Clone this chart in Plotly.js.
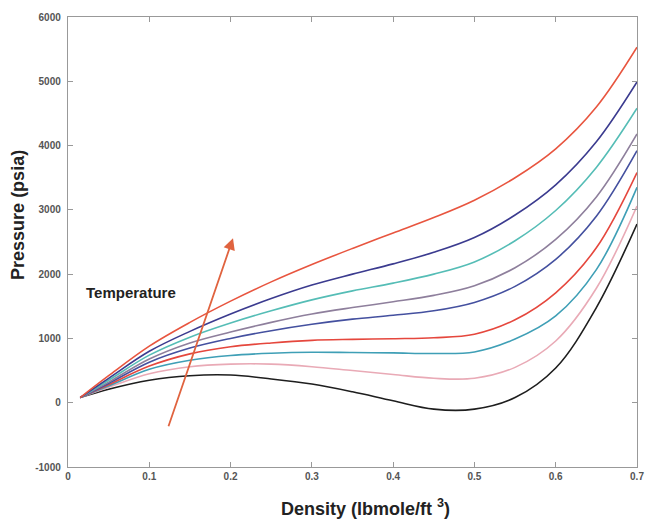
<!DOCTYPE html>
<html>
<head>
<meta charset="utf-8">
<script src="https://cdn.plot.ly/plotly-3.0.1.min.js"></script>
<style>html,body{margin:0;padding:0;background:#fff;}#chart{width:647px;height:520px;}</style>
</head>
<body>
<div id="chart"></div>
<script>
// Density (lbmole/ft^3)
const density = [0.015, 0.05, 0.1, 0.15, 0.2, 0.25, 0.3, 0.35, 0.4, 0.45, 0.5, 0.55, 0.6, 0.65, 0.7];
// Pressure (psia), isotherms from lowest to highest temperature
const isoBlack = [80, 210, 350, 420, 430, 370, 290, 170, 30, -100, -100, 80, 540, 1480, 2780];
const isoPink  = [80, 240, 450, 560, 600, 600, 560, 500, 440, 380, 380, 550, 960, 1780, 3060];
const isoTeal  = [80, 260, 520, 660, 735, 770, 785, 780, 775, 765, 790, 990, 1350, 2070, 3350];
const isoRed2  = [80, 280, 570, 760, 870, 930, 970, 985, 995, 1010, 1065, 1290, 1710, 2410, 3580];
const isoNavy2 = [80, 300, 630, 850, 1000, 1120, 1220, 1300, 1360, 1430, 1560, 1810, 2230, 2900, 3920];
const isoGray  = [80, 320, 680, 930, 1100, 1250, 1380, 1480, 1570, 1670, 1820, 2100, 2540, 3200, 4180];
const isoCyan  = [80, 350, 740, 1020, 1240, 1430, 1600, 1740, 1860, 2000, 2190, 2520, 2990, 3660, 4580];
const isoNavy  = [80, 380, 800, 1110, 1380, 1620, 1830, 2000, 2160, 2340, 2570, 2920, 3390, 4060, 4990];
const isoRed   = [80, 420, 880, 1250, 1580, 1880, 2150, 2400, 2640, 2880, 3150, 3500, 3950, 4600, 5530];

const series = [isoBlack, isoPink, isoTeal, isoRed2, isoNavy2, isoGray, isoCyan, isoNavy, isoRed];
const colors = ['#1e1e1e', '#e9aab6', '#3f9fb6', '#e5473d', '#44509f', '#8e7f9c', '#55bdb6', '#3b3b8f', '#e8553f'];

const xTicks = [0, 0.1, 0.2, 0.3, 0.4, 0.5, 0.6, 0.7];
const xTickText = ['0', '0.1', '0.2', '0.3', '0.4', '0.5', '0.6', '0.7'];
const yTicks = [-1000, 0, 1000, 2000, 3000, 4000, 5000, 6000];
const yTickText = ['-1000', '0', '1000', '2000', '3000', '4000', '5000', '6000'];

const traces = series.map((ys, i) => ({
  x: density, y: ys, type: 'scatter', mode: 'lines',
  line: {color: colors[i], width: 1.6, shape: 'spline', smoothing: 1},
  hoverinfo: 'skip', showlegend: false
}));

const fam = 'Liberation Sans, Arial, sans-serif';
const tickFont = {family: fam, size: 10, color: '#555', weight: 'bold'};
const titleFont = {family: fam, size: 18, color: '#222', weight: 'bold'};

const layout = {
  width: 647, height: 520,
  margin: {l: 68, r: 10, t: 17, b: 53},
  paper_bgcolor: '#fff', plot_bgcolor: '#fff',
  showlegend: false,
  xaxis: {
    range: [0, 0.7], tickvals: xTicks, ticktext: xTickText,
    ticks: 'inside', ticklen: 5, tickcolor: '#999', mirror: 'ticks',
    showline: true, linecolor: '#999', linewidth: 1.2, showgrid: false, zeroline: false,
    tickfont: tickFont
  },
  yaxis: {
    range: [-1000, 6000], tickvals: yTicks, ticktext: yTickText,
    ticks: 'inside', ticklen: 5, tickcolor: '#999', mirror: 'ticks',
    showline: true, linecolor: '#999', linewidth: 1.2, showgrid: false, zeroline: false,
    tickfont: tickFont, ticklabelstandoff: 4
  },
  annotations: [
    {x: 0.522, y: -0.091, xref: 'paper', yref: 'paper', xanchor: 'center', yanchor: 'middle',
     text: 'Density (lbmole/ft <sup>3</sup>)', showarrow: false, font: titleFont},
    {x: -0.088, y: 0.56, xref: 'paper', yref: 'paper', xanchor: 'center', yanchor: 'middle',
     text: 'Pressure (psia)', textangle: -90, showarrow: false, font: titleFont},
    {x: 0.078, y: 1720, xref: 'x', yref: 'y', text: 'Temperature', showarrow: false,
     font: {family: fam, size: 15, color: '#222', weight: 'bold'}},
    {x: 0.203, y: 2560, ax: 0.123, ay: -390, xref: 'x', yref: 'y', axref: 'x', ayref: 'y',
     text: '', showarrow: true, arrowhead: 2, arrowsize: 1.3, arrowwidth: 1.8, arrowcolor: '#e0633f', standoff: 0}
  ]
};

Plotly.newPlot('chart', traces, layout, {staticPlot: true, displayModeBar: false});
</script>
</body>
</html>
